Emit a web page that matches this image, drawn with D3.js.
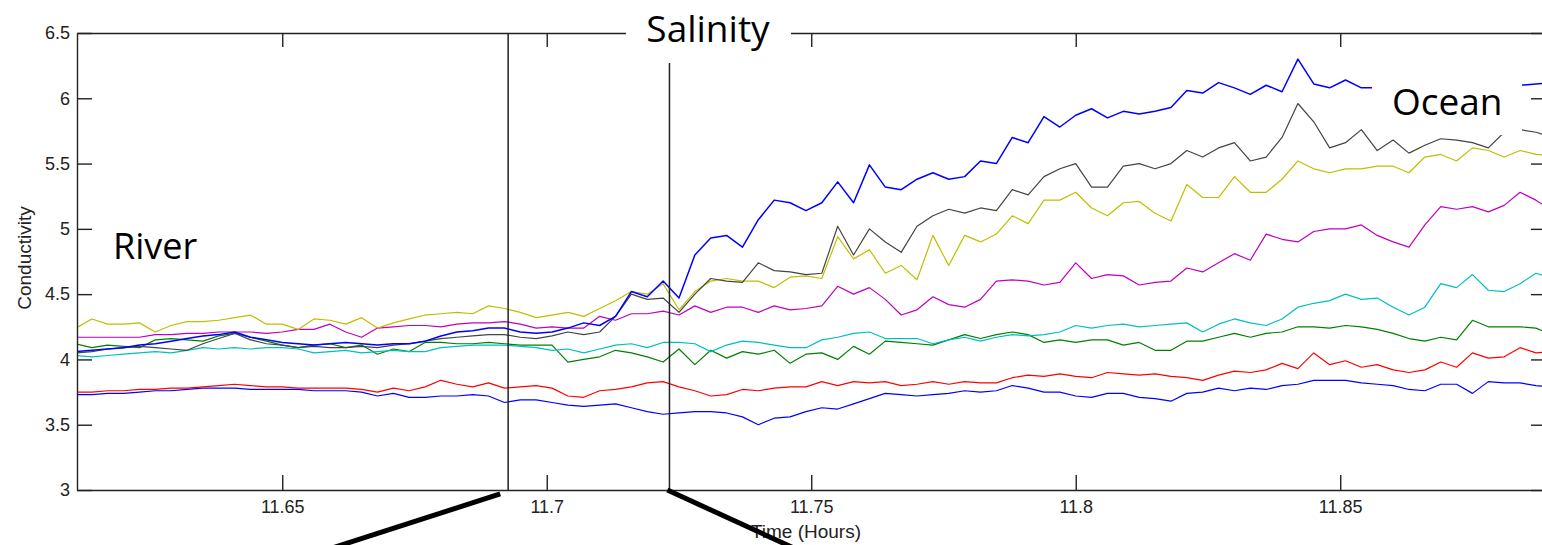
<!DOCTYPE html>
<html>
<head>
<meta charset="utf-8">
<script src="https://cdn.jsdelivr.net/npm/d3@7"></script>
<style>
  body { margin: 0; background: #fff; overflow: hidden; }
</style>
</head>
<body>
<div id="chart"></div>
<script>
// Data: conductivity readings vs time (hours)
const time = [11.611,11.614,11.617,11.620,11.623,11.626,11.629,11.632,11.635,11.638,
  11.641,11.644,11.647,11.650,11.653,11.656,11.659,11.662,11.665,11.668,
  11.671,11.674,11.677,11.680,11.683,11.686,11.689,11.692,11.695,11.698,
  11.701,11.704,11.707,11.710,11.713,11.716,11.719,11.722,11.725,11.728,
  11.731,11.734,11.737,11.740,11.743,11.746,11.749,11.752,11.755,11.758,
  11.761,11.764,11.767,11.770,11.773,11.776,11.779,11.782,11.785,11.788,
  11.791,11.794,11.797,11.800,11.803,11.806,11.809,11.812,11.815,11.818,
  11.821,11.824,11.827,11.830,11.833,11.836,11.839,11.842,11.845,11.848,
  11.851,11.854,11.857,11.860,11.863,11.866,11.869,11.872,11.875,11.878,
  11.881,11.884,11.887,11.890]

const blueTop = [4.06,4.07,4.08,4.09,4.11,4.12,4.14,4.16,4.18,4.19,
  4.21,4.17,4.15,4.13,4.12,4.11,4.12,4.13,4.12,4.11,
  4.12,4.12,4.14,4.18,4.21,4.22,4.24,4.24,4.21,4.20,
  4.21,4.24,4.28,4.26,4.33,4.52,4.48,4.60,4.47,4.80,
  4.93,4.95,4.86,5.07,5.22,5.20,5.14,5.20,5.36,5.20,
  5.49,5.32,5.30,5.38,5.43,5.38,5.40,5.52,5.50,5.70,
  5.66,5.86,5.78,5.87,5.92,5.85,5.90,5.88,5.90,5.93,
  6.06,6.04,6.12,6.08,6.03,6.10,6.05,6.30,6.11,6.08,
  6.14,6.08,6.08,6.09,6.10,6.10,6.11,6.10,6.11,6.10,
  6.10,6.10,6.11,6.12]

const black = [4.05,4.06,4.08,4.09,4.10,4.09,4.08,4.07,4.12,4.16,
  4.20,4.15,4.12,4.11,4.09,4.10,4.09,4.09,4.10,4.09,
  4.11,4.12,4.14,4.16,4.17,4.18,4.19,4.19,4.17,4.16,
  4.18,4.21,4.19,4.21,4.33,4.50,4.46,4.47,4.36,4.50,
  4.62,4.60,4.59,4.74,4.68,4.67,4.65,4.66,5.02,4.80,
  5.00,4.90,4.82,5.02,5.10,5.15,5.12,5.16,5.14,5.30,
  5.26,5.40,5.46,5.50,5.32,5.32,5.48,5.50,5.46,5.50,
  5.60,5.55,5.62,5.66,5.52,5.55,5.70,5.96,5.82,5.62,
  5.66,5.76,5.60,5.68,5.58,5.64,5.69,5.68,5.66,5.62,
  5.74,5.76,5.74,5.70]

const yellow = [4.24,4.31,4.27,4.27,4.28,4.21,4.26,4.29,4.29,4.30,
  4.32,4.34,4.27,4.27,4.23,4.31,4.30,4.27,4.32,4.24,
  4.28,4.31,4.34,4.35,4.36,4.35,4.41,4.39,4.36,4.32,
  4.34,4.36,4.33,4.39,4.45,4.52,4.50,4.58,4.38,4.52,
  4.60,4.62,4.60,4.60,4.55,4.63,4.64,4.62,4.94,4.77,
  4.84,4.66,4.72,4.61,4.95,4.72,4.95,4.90,4.96,5.10,
  5.04,5.22,5.22,5.28,5.16,5.10,5.20,5.21,5.12,5.06,
  5.34,5.24,5.24,5.40,5.28,5.28,5.38,5.52,5.46,5.43,
  5.46,5.46,5.48,5.48,5.43,5.55,5.57,5.52,5.62,5.60,
  5.55,5.60,5.57,5.56]

const magenta = [4.17,4.17,4.17,4.17,4.17,4.19,4.19,4.20,4.20,4.21,
  4.21,4.21,4.20,4.21,4.23,4.23,4.27,4.21,4.17,4.24,
  4.25,4.26,4.26,4.25,4.27,4.28,4.28,4.29,4.27,4.24,
  4.25,4.24,4.24,4.33,4.30,4.35,4.35,4.37,4.34,4.41,
  4.36,4.40,4.40,4.36,4.41,4.38,4.39,4.41,4.56,4.50,
  4.55,4.46,4.34,4.38,4.48,4.42,4.40,4.46,4.60,4.61,
  4.60,4.57,4.59,4.74,4.62,4.65,4.64,4.57,4.59,4.60,
  4.70,4.67,4.74,4.81,4.76,4.96,4.92,4.90,4.98,5.00,
  5.00,5.03,4.95,4.90,4.86,5.03,5.17,5.15,5.17,5.13,
  5.18,5.28,5.22,5.14]

const cyan = [4.03,4.02,4.03,4.04,4.05,4.06,4.05,4.07,4.09,4.08,
  4.09,4.08,4.09,4.09,4.08,4.05,4.06,4.07,4.05,4.06,
  4.07,4.06,4.06,4.09,4.10,4.11,4.11,4.11,4.10,4.09,
  4.07,4.08,4.05,4.08,4.11,4.12,4.09,4.13,4.13,4.12,
  4.06,4.11,4.14,4.13,4.11,4.09,4.09,4.15,4.17,4.20,
  4.21,4.16,4.16,4.16,4.12,4.15,4.17,4.14,4.17,4.19,
  4.18,4.19,4.21,4.26,4.24,4.26,4.27,4.25,4.26,4.27,
  4.28,4.21,4.27,4.31,4.28,4.26,4.31,4.40,4.43,4.45,
  4.50,4.46,4.47,4.40,4.34,4.40,4.58,4.55,4.65,4.53,
  4.52,4.58,4.66,4.62]

const green = [4.12,4.09,4.11,4.10,4.09,4.15,4.16,4.15,4.14,4.18,
  4.20,4.17,4.14,4.11,4.09,4.11,4.12,4.09,4.11,4.04,
  4.08,4.06,4.13,4.13,4.12,4.12,4.13,4.12,4.11,4.11,
  4.11,3.98,4.00,4.02,4.07,4.05,4.02,3.98,4.08,3.96,
  4.07,4.01,4.06,4.04,4.07,3.97,4.04,4.05,4.00,4.10,
  4.04,4.14,4.13,4.12,4.11,4.15,4.19,4.16,4.19,4.21,
  4.19,4.13,4.15,4.13,4.15,4.15,4.11,4.13,4.07,4.07,
  4.14,4.14,4.17,4.20,4.17,4.20,4.21,4.25,4.25,4.24,
  4.26,4.25,4.23,4.20,4.16,4.14,4.17,4.15,4.30,4.25,
  4.25,4.25,4.24,4.19]

const red = [3.75,3.75,3.76,3.76,3.77,3.77,3.78,3.78,3.79,3.80,
  3.81,3.80,3.79,3.79,3.78,3.78,3.78,3.78,3.77,3.75,
  3.78,3.76,3.79,3.84,3.81,3.79,3.82,3.78,3.79,3.80,
  3.78,3.72,3.71,3.76,3.77,3.79,3.82,3.83,3.79,3.76,
  3.72,3.73,3.77,3.76,3.78,3.79,3.79,3.83,3.80,3.83,
  3.82,3.83,3.80,3.81,3.83,3.81,3.83,3.82,3.82,3.86,
  3.88,3.87,3.89,3.87,3.86,3.90,3.89,3.88,3.89,3.87,
  3.86,3.84,3.88,3.91,3.90,3.92,3.97,3.93,4.05,3.96,
  3.99,3.94,3.96,3.92,3.90,3.92,3.98,3.94,4.05,4.01,
  4.02,4.09,4.05,4.06]

const blueLow = [3.73,3.73,3.74,3.74,3.75,3.76,3.76,3.77,3.78,3.78,
  3.78,3.77,3.77,3.77,3.77,3.76,3.76,3.76,3.75,3.72,
  3.74,3.71,3.71,3.72,3.72,3.73,3.72,3.67,3.69,3.69,
  3.67,3.65,3.64,3.65,3.66,3.63,3.60,3.58,3.59,3.60,
  3.60,3.59,3.56,3.50,3.55,3.56,3.60,3.63,3.62,3.66,
  3.70,3.74,3.73,3.72,3.73,3.74,3.76,3.75,3.76,3.80,
  3.78,3.75,3.75,3.72,3.71,3.74,3.74,3.71,3.70,3.68,
  3.74,3.75,3.78,3.76,3.78,3.77,3.80,3.81,3.84,3.84,
  3.84,3.82,3.81,3.80,3.77,3.76,3.81,3.81,3.74,3.83,
  3.82,3.82,3.80,3.79]

const seriesNames = ['blueLow', 'red', 'green', 'cyan', 'magenta', 'yellow', 'black', 'blueTop']
const seriesValues = [blueLow, red, green, cyan, magenta, yellow, black, blueTop]
const seriesColors = ['#0000ff', '#ff0000', '#008000', '#00bfbf', '#bf00bf', '#bfbf00', '#444444', '#0000ff']

const xTicks = [11.65, 11.7, 11.75, 11.8, 11.85]
const yTicks = [3, 3.5, 4, 4.5, 5, 5.5, 6, 6.5]

// section markers (hours) and callout ends (hours, conductivity)
const markers = [11.6927, 11.7232]
const callouts = [
  [[11.6912, 2.97], [11.6590, 2.55]],
  [[11.7228, 3.0], [11.7470, 2.55]]
]

//Dimensions
let width = 1542,
    height = 545,
    margin = {left: 77, top: 33, bottom: 490, right: 1546}

const svg = d3.select('#chart')
    .append('svg')
    .attr('width', width)
    .attr('height', height)
    .style('display', 'block')

// Scale
let x = d3.scaleLinear().domain([11.6112, 11.8889]).range([margin.left, margin.right])
let y = d3.scaleLinear().domain([3, 6.5]).range([margin.bottom, margin.top])

svg.append('defs').append('clipPath')
    .attr('id', 'plot-clip')
    .append('rect')
    .attr('x', margin.left)
    .attr('y', margin.top)
    .attr('width', margin.right - margin.left)
    .attr('height', margin.bottom - margin.top)

// Lines
let line = d3.line()
    .x((d, i) => x(time[i]))
    .y(d => y(d))

svg.append('g')
    .attr('clip-path', 'url(#plot-clip)')
    .selectAll('path')
    .data(seriesValues)
    .enter()
    .append('path')
    .attr('class', (d, i) => 'series ' + seriesNames[i])
    .attr('d', line)
    .attr('fill', 'none')
    .attr('stroke', (d, i) => seriesColors[i])
    .attr('stroke-width', (d, i) => i === 7 ? 1.5 : 1.2)
    .attr('stroke-linejoin', 'round')

// Axes
const axisColor = '#222'
let fmt = d => String(+d.toFixed(2))

let xAxis = svg.append('g')
    .attr('transform', 'translate(0,' + margin.bottom + ')')
    .call(d3.axisBottom(x).tickValues(xTicks).tickSizeInner(-15).tickSizeOuter(0).tickPadding(10).tickFormat(fmt))
let xTop = svg.append('g')
    .attr('transform', 'translate(0,' + margin.top + ')')
    .call(d3.axisTop(x).tickValues(xTicks).tickSizeInner(-14).tickSizeOuter(0).tickFormat(''))
let yAxis = svg.append('g')
    .attr('transform', 'translate(' + margin.left + ',0)')
    .call(d3.axisLeft(y).tickValues(yTicks).tickSizeInner(-15).tickSizeOuter(0).tickPadding(7).tickFormat(fmt))
let yRight = svg.append('g')
    .attr('transform', 'translate(' + margin.right + ',0)')
    .call(d3.axisRight(y).tickValues(yTicks).tickSizeInner(-15).tickSizeOuter(0).tickFormat(''))

svg.selectAll('.domain, .tick line')
    .attr('stroke', axisColor)
    .attr('stroke-width', 1.4)
svg.selectAll('.tick text')
    .attr('fill', '#222')
    .style('font-family', '"Liberation Sans", Arial, sans-serif')
    .style('font-size', '18px')

// Axis labels
svg.append('text')
    .attr('x', x(11.749))
    .attr('y', 538)
    .attr('text-anchor', 'middle')
    .attr('fill', '#222')
    .style('font-family', '"Liberation Sans", Arial, sans-serif')
    .style('font-size', '19px')
    .text('Time (Hours)')

svg.append('text')
    .attr('transform', 'translate(31,' + 258 + ') rotate(-90)')
    .attr('text-anchor', 'middle')
    .attr('fill', '#222')
    .style('font-family', '"Liberation Sans", Arial, sans-serif')
    .style('font-size', '19px')
    .text('Conductivity')

// Section markers
svg.append('line')
    .attr('x1', x(markers[0])).attr('x2', x(markers[0]))
    .attr('y1', y(6.5)).attr('y2', y(3))
    .attr('stroke', '#222').attr('stroke-width', 1.5)
svg.append('line')
    .attr('x1', x(markers[1])).attr('x2', x(markers[1]))
    .attr('y1', y(6.27)).attr('y2', y(3))
    .attr('stroke', '#222').attr('stroke-width', 1.5)

// Callout lines
svg.selectAll('.callout')
    .data(callouts)
    .enter()
    .append('line')
    .attr('class', 'callout')
    .attr('x1', d => x(d[0][0])).attr('y1', d => y(d[0][1]))
    .attr('x2', d => x(d[1][0])).attr('y2', d => y(d[1][1]))
    .attr('stroke', '#000')
    .attr('stroke-width', 5)

// Text boxes
const labelFont = '"Open Sans", "Noto Sans", sans-serif'

// title box covers the top frame
svg.append('rect')
    .attr('x', 626).attr('y', 0)
    .attr('width', 165).attr('height', 60)
    .attr('fill', '#fff')
svg.append('text')
    .attr('x', 708).attr('y', 42)
    .attr('text-anchor', 'middle')
    .style('font-family', labelFont)
    .style('font-size', '37px')
    .text('Salinity')

svg.append('text')
    .attr('x', 113).attr('y', 259)
    .style('font-family', labelFont)
    .style('font-size', '36px')
    .text('River')

// ocean box hides the top lines behind it
svg.append('rect')
    .attr('x', 1372).attr('y', 50)
    .attr('width', 150).attr('height', 85)
    .attr('fill', '#fff')
svg.append('text')
    .attr('x', 1392).attr('y', 115)
    .style('font-family', labelFont)
    .style('font-size', '37px')
    .text('Ocean')
</script>
</body>
</html>
